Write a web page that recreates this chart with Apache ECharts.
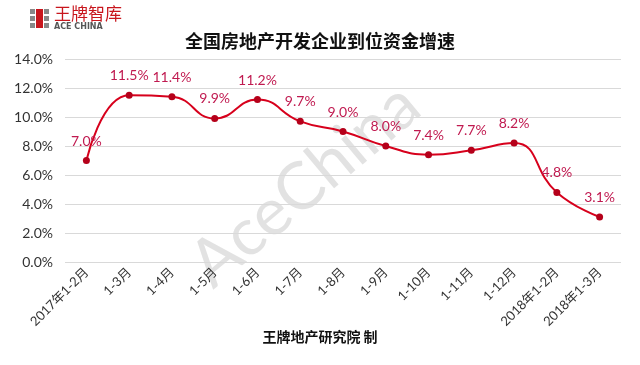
<!DOCTYPE html>
<html><head><meta charset="utf-8">
<script src="https://cdn.jsdelivr.net/npm/echarts@6/dist/echarts.min.js"></script>
<style>html,body{margin:0;padding:0;background:#fff}#c{width:640px;height:365px}</style>
</head><body><div id="c"></div>
<script>
var categories = ['2017年1-2月','1-3月','1-4月','1-5月','1-6月','1-7月','1-8月','1-9月','1-10月','1-11月','1-12月','2018年1-2月','2018年1-3月'];
var growth = [7.0, 11.5, 11.4, 9.9, 11.2, 9.7, 9.0, 8.0, 7.4, 7.7, 8.2, 4.8, 3.1];
var yTicks = [0, 2, 4, 6, 8, 10, 12, 14];
var titleText = '全国房地产开发企业到位资金增速';
var footerText = '王牌地产研究院 制';

var chart = echarts.init(document.getElementById('c'));
var font = 'Lato, "Noto Sans CJK SC", sans-serif';
chart.setOption({
  animation: false,
  textStyle: {fontFamily: font},
  title: {text: titleText, left: 'center', top: 27,
    textStyle: {fontSize: 18, fontWeight: 'bold', color: '#111', fontFamily: '"Noto Sans CJK SC", sans-serif'}},
  grid: {left: 65, right: 19, top: 59, bottom: 103},
  xAxis: {type: 'category', data: categories, boundaryGap: true,
    axisLine: {show: false}, axisTick: {show: false},
    axisLabel: {rotate: 45, interval: 0, color: '#333', fontSize: 13, margin: 8, fontFamily: font}},
  yAxis: {type: 'value', min: yTicks[0], max: yTicks[yTicks.length-1], interval: 2,
    axisLine: {show: false}, axisTick: {show: false},
    axisLabel: {formatter: function(v){return v.toFixed(1)+'%';}, color: '#333', fontSize: 14, margin: 12},
    splitLine: {lineStyle: {color: '#d9d9d9', width: 1}}},
  series: [{type: 'line', data: growth, smooth: 0.5,
    symbol: 'circle', symbolSize: 7,
    lineStyle: {color: '#d7001c', width: 2},
    itemStyle: {color: '#b5001a'},
    label: {show: true, position: 'top', distance: 9, color: '#c01a50', fontSize: 14,
      formatter: function(p){return p.value.toFixed(1)+'%';}}
  }],
  graphic: [
    {type: 'text', left: 'center', top: 330, style: {text: footerText, fontSize: 14, fontWeight: 'bold', fill: '#111', fontFamily: '"Noto Sans CJK SC", sans-serif'}},
    {type: 'text', rotation: Math.PI*40/180, position: [305,185],
      style: {text: 'AceChina', fontSize: 66, fill: 'rgba(160,160,160,0.3)', fontFamily: 'Lato, sans-serif', align: 'center', verticalAlign: 'middle'}, silent: true, z: -1},
    {type: 'rect', shape: {x: 30, y: 9, width: 5, height: 5}, style: {fill: '#888'}},
    {type: 'rect', shape: {x: 30, y: 16, width: 5, height: 5}, style: {fill: '#888'}},
    {type: 'rect', shape: {x: 30, y: 23, width: 5, height: 5}, style: {fill: '#888'}},
    {type: 'rect', shape: {x: 36, y: 9, width: 7, height: 19}, style: {fill: '#c8161d'}},
    {type: 'rect', shape: {x: 44, y: 9, width: 5, height: 5}, style: {fill: '#888'}},
    {type: 'rect', shape: {x: 44, y: 16, width: 5, height: 5}, style: {fill: '#888'}},
    {type: 'rect', shape: {x: 44, y: 23, width: 5, height: 5}, style: {fill: '#888'}},
    {type: 'text', x: 54, y: 5, style: {text: '王牌智库', fontSize: 17, fill: '#c8161d', fontFamily: '"Noto Sans CJK SC", sans-serif'}},
    {type: 'text', x: 54, y: 23, style: {text: 'ACE CHINA', fontSize: 8, fontWeight: 'bold', fill: '#555', fontFamily: 'DejaVu Sans, sans-serif'}}
  ]
});
</script></body></html>
